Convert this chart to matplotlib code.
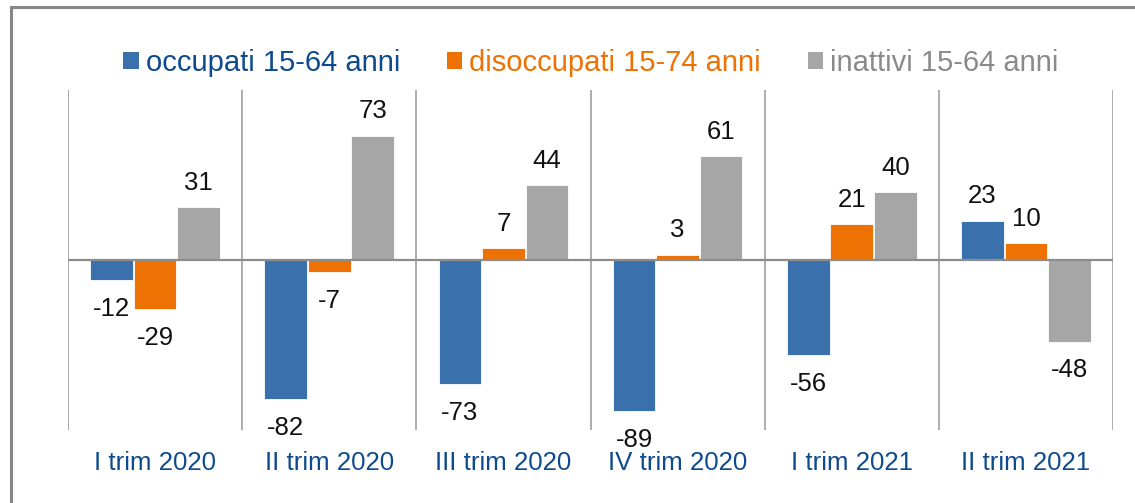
import matplotlib
matplotlib.use("Agg")
import matplotlib.pyplot as plt
from matplotlib.patches import Patch, Rectangle
import numpy as np

categories = ["I trim 2020", "II trim 2020", "III trim 2020", "IV trim 2020", "I trim 2021", "II trim 2021"]
series_names = ["occupati 15-64 anni", "disoccupati 15-74 anni", "inattivi 15-64 anni"]
occupati = [-12, -82, -73, -89, -56, 23]
disoccupati = [-29, -7, 7, 3, 21, 10]
inattivi = [31, 73, 44, 61, 40, -48]

bar_colors = ["#3A70AB", "#EE7203", "#A6A6A6"]
text_colors = ["#0E4A8E", "#EE7203", "#8A8A8A"]

plt.rcParams['font.family'] = ['Liberation Sans', 'DejaVu Sans']

fig = plt.figure(figsize=(11.35, 5.03), dpi=100)
W, H = 1135, 503
ax = fig.add_axes([68 / W, 1 - 430 / H, (1113 - 68) / W, (430 - 90) / H])

x = np.arange(len(categories))
width = 0.245
offsets = [-0.25, 0.0, 0.25]
for vals, off, col in zip([occupati, disoccupati, inattivi], offsets, bar_colors):
    bars = ax.bar(x + off, vals, width, color=col, edgecolor="white", linewidth=0.6, zorder=2)
    for b, v in zip(bars, vals):
        if v >= 0:
            ax.annotate(f"{v}", (b.get_x() + b.get_width() / 2, v), xytext=(0, 9),
                        textcoords="offset points", ha="center", va="bottom",
                        fontsize=18.5, color="#111111")
        else:
            ax.annotate(f"{v}", (b.get_x() + b.get_width() / 2, v), xytext=(0, -12),
                        textcoords="offset points", ha="center", va="top",
                        fontsize=18.5, color="#111111")

ax.set_xlim(-0.5, len(categories) - 0.5)
ax.set_ylim(-100, 100)
for b in np.arange(len(categories) + 1) - 0.5:
    ax.axvline(b, color="#A6A6A6", lw=1.3, zorder=1)
ax.axhline(0, color="#8C8C8C", lw=1.6, zorder=3)

for s in ax.spines.values():
    s.set_visible(False)
ax.set_yticks([])
ax.set_xticks(x)
ax.set_xticklabels(categories, fontsize=18.6, color=text_colors[0])
ax.tick_params(axis="x", length=0, pad=15)

handles = [Patch(facecolor=c, edgecolor="none") for c in bar_colors]
leg = fig.legend(handles, series_names, loc="center", bbox_to_anchor=(591 / W, 1 - 63 / H),
                 ncol=3, frameon=False, fontsize=21, handlelength=0.52, handleheight=0.52,
                 handletextpad=0.25, columnspacing=1.6, labelcolor=text_colors)

fig.patches.append(Rectangle((11 / W, -0.1), 1.2, 1.1 - 7 / H, transform=fig.transFigure,
                             fill=False, edgecolor="#878787", linewidth=2.2))

fig.savefig("out.png", dpi=100)
